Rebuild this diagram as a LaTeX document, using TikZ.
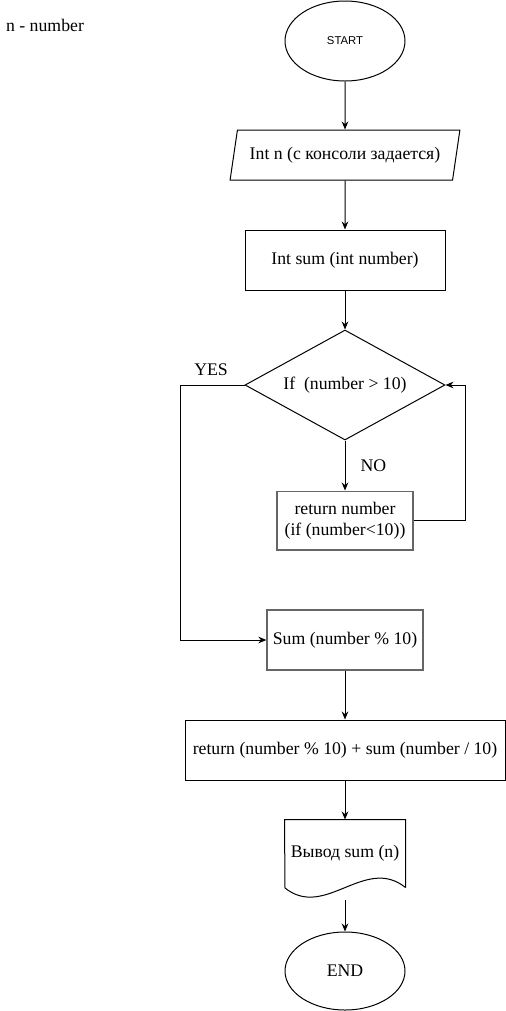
\documentclass[tikz,border=0pt]{standalone}
\usepackage{fontspec}
\setmainfont{Liberation Serif}
\newfontfamily\serifFont{Liberation Serif}
\newfontfamily\arialfont{Liberation Sans}
\usepackage{tikz}
\usetikzlibrary{shapes.geometric, arrows.meta, positioning}
\definecolor{colorBox}{HTML}{666666}

\begin{document}
\begin{tikzpicture}[x=0.75pt,y=-0.75pt,
        line width=0.75pt, >={Stealth[length=6pt,width=5pt]},
        every node/.style={font=\serifFont\fontsize{13.3}{15.5}\selectfont},
        term/.style={draw,ellipse,minimum width=90pt,inner sep=0pt},
        proc/.style={draw,rectangle,minimum height=45pt,inner sep=2pt},
        procGray/.style={proc,draw=colorBox,line width=1pt}]
    \useasboundingbox (0,0) rectangle (506,1011);

    \node (note) at (45,25) {n - number};
    \node[term,minimum height=60pt,font=\arialfont\fontsize{8.5}{10}\selectfont] (start) at (345,41) {START};
    \node[draw,trapezium,trapezium left angle=68,trapezium right angle=112,trapezium stretches,
        minimum width=172.5pt,minimum height=37.5pt,inner sep=0pt] (inp) at (345,155) {Int n (с консоли задается)};
    \node[proc,minimum width=150pt] (fn) at (345,260) {Int sum (int number)};
    \node[draw,diamond,aspect=1.82,minimum width=150pt,minimum height=82.5pt,inner sep=0pt] (dec) at (345,385) {If\ \ (number > 10)};
    \node[procGray,minimum width=102pt,minimum height=44pt,align=center] (ret) at (345,520.5) {return number\\(if (number<10))};
    \node[procGray,minimum width=117pt] (sum) at (345,640) {Sum (number \% 10)};
    \node[proc,minimum width=240pt] (rec) at (345,750) {return (number \% 10) + sum (number / 10)};
    \node[minimum width=90pt,minimum height=50.25pt,inner sep=0pt] (out) at (345,853.5) {Вывод sum (n)};
    \draw (out.south east) -- (out.north east) -- (out.north west) -- (285,888)
        .. controls (325,920) and (365,855) .. (out.south east);
    \coordinate (outb) at (345,900);
    \node[term,minimum height=58.5pt] (end) at (345,971) {END};

    % main flow
    \draw[->] (start) -- (inp);
    \draw[->] (inp) -- (fn);
    \draw[->] (fn) -- (dec);
    \draw[->] (dec) -- node[right=8pt] (no) {NO} (ret);
    \draw[->] (ret.east) -- ++(52,0) |- (dec.east);
    \draw[->] (dec.west) -- ++(-64,0) |- (sum.west);
    \node (yes) at (211,370) {YES};
    \draw[->] (sum) -- (rec);
    \draw[->] (rec) -- (out.north);
    \draw[->] (outb) -- (end);
\end{tikzpicture}
\end{document}
